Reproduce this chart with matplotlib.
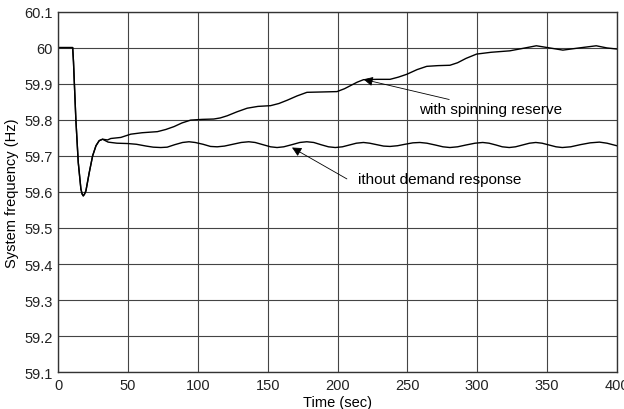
import matplotlib
matplotlib.use("Agg")
import matplotlib.pyplot as plt

plt.rcParams['font.family'] = ['Liberation Sans', 'DejaVu Sans']

# Common transient (both cases identical until ~t=31 s)
t_common = [0, 10.3, 10.9, 11.4, 12.6, 14.3, 16.2, 17.1, 17.9, 18.8, 19.8, 22.2, 24.6, 27.0, 29.3, 31.7]
f_common = [60.0, 60.0, 59.96, 59.912, 59.80, 59.682, 59.608, 59.594, 59.589, 59.594, 59.603,
            59.654, 59.700, 59.728, 59.742, 59.746]

# With spinning reserve
t_spin = [35.3, 37.6, 44.8, 51.9, 60.0, 71.0, 77.0, 82.9, 88.5, 94.8, 103.0, 111.4, 116.0,
          121.0, 128.0, 135.3, 143.0, 152.0, 158.0, 163.9, 171.0, 178.1, 189.0, 199.6, 205.0,
          209.0, 214.0, 218.6, 228.0, 237.6, 243.5, 249.6, 257.0, 263.9, 272.0, 280.5, 286.0,
          292.0, 299.6, 310.0, 323.4, 333.0, 342.4, 352.0, 361.4, 373.0, 385.3, 393.0, 400.0]
f_spin = [59.744, 59.748, 59.751, 59.760, 59.764, 59.767, 59.773, 59.781, 59.791, 59.799,
          59.801, 59.802, 59.805, 59.811, 59.822, 59.832, 59.837, 59.839, 59.845, 59.854,
          59.866, 59.876, 59.877, 59.878, 59.886, 59.894, 59.904, 59.911, 59.912, 59.912,
          59.918, 59.926, 59.939, 59.948, 59.950, 59.951, 59.958, 59.970, 59.982, 59.987,
          59.991, 59.998, 60.005, 59.999, 59.993, 59.999, 60.005, 59.999, 59.996]

# Without demand response
t_nodr = [35.7, 42.0, 50.0, 56.0, 63.0, 68.0, 73.4, 78.0, 83.5, 89.0, 93.6, 98.0, 103.7,
          109.0, 113.8, 119.0, 125.0, 131.0, 136.4, 141.0, 146.5, 152.0, 156.7, 161.5, 167.4,
          173.0, 178.0, 183.0, 188.0, 193.5, 198.4, 203.5, 208.5, 213.5, 218.6, 223.0, 228.0,
          233.0, 237.6, 243.0, 248.3, 254.0, 259.0, 264.0, 270.0, 275.5, 280.5, 286.0, 292.0,
          298.5, 304.0, 308.5, 313.5, 318.0, 323.0, 327.5, 332.5, 337.5, 342.0, 346.5, 351.5,
          356.5, 361.0, 367.0, 374.0, 381.0, 387.6, 393.0, 400.0]
f_nodr = [59.738, 59.735, 59.734, 59.732, 59.727, 59.724, 59.723, 59.724, 59.731, 59.737,
          59.739, 59.737, 59.732, 59.726, 59.725, 59.727, 59.732, 59.737, 59.739, 59.737,
          59.731, 59.725, 59.723, 59.725, 59.731, 59.737, 59.739, 59.737, 59.731, 59.725,
          59.723, 59.725, 59.730, 59.735, 59.737, 59.735, 59.731, 59.727, 59.726, 59.728,
          59.732, 59.736, 59.737, 59.735, 59.730, 59.725, 59.723, 59.725, 59.730, 59.735,
          59.737, 59.735, 59.730, 59.725, 59.723, 59.725, 59.730, 59.735, 59.737, 59.735,
          59.730, 59.725, 59.723, 59.725, 59.731, 59.736, 59.738, 59.735, 59.728]

x_ticks = [0, 50, 100, 150, 200, 250, 300, 350, 400]
y_ticks = [59.1, 59.2, 59.3, 59.4, 59.5, 59.6, 59.7, 59.8, 59.9, 60.0, 60.1]
y_tick_labels = ['59.1', '59.2', '59.3', '59.4', '59.5', '59.6', '59.7', '59.8', '59.9', '60', '60.1']

fig = plt.figure(figsize=(6.24, 4.10), dpi=100)
ax = fig.add_axes([0.0934, 0.0895, 0.895, 0.880])

ax.plot(t_common + t_spin, f_common + f_spin, color='black', lw=1.0)
ax.plot(t_common + t_nodr, f_common + f_nodr, color='black', lw=1.0)

ax.set_xlim(0, 400)
ax.set_ylim(59.1, 60.1)
ax.set_xticks(x_ticks)
ax.set_yticks(y_ticks)
ax.set_yticklabels(y_tick_labels)
ax.tick_params(axis='both', labelsize=10.5, length=0, pad=4, colors='#222222')
ax.grid(True, color='#444444', lw=0.8)
for s in ax.spines.values():
    s.set_color('#333333')
    s.set_linewidth(1.0)

ax.set_xlabel('Time (sec)', fontsize=10.5, labelpad=2)
ax.set_ylabel('System frequency (Hz)', fontsize=10.5, labelpad=4)

arrow = dict(arrowstyle='-|>', color='black', lw=0.6, mutation_scale=14,
             shrinkA=0, shrinkB=0)
ax.annotate('with spinning reserve', xy=(218.6, 59.912), xytext=(258.5, 59.829),
            fontsize=11, ha='left', va='center', arrowprops=arrow)
ax.annotate('', xy=(167.4, 59.723), xytext=(206.7, 59.636), arrowprops=arrow)
ax.text(214.5, 59.635, 'ithout demand response', fontsize=11, ha='left', va='center')

fig.savefig('out.png', dpi=100)
